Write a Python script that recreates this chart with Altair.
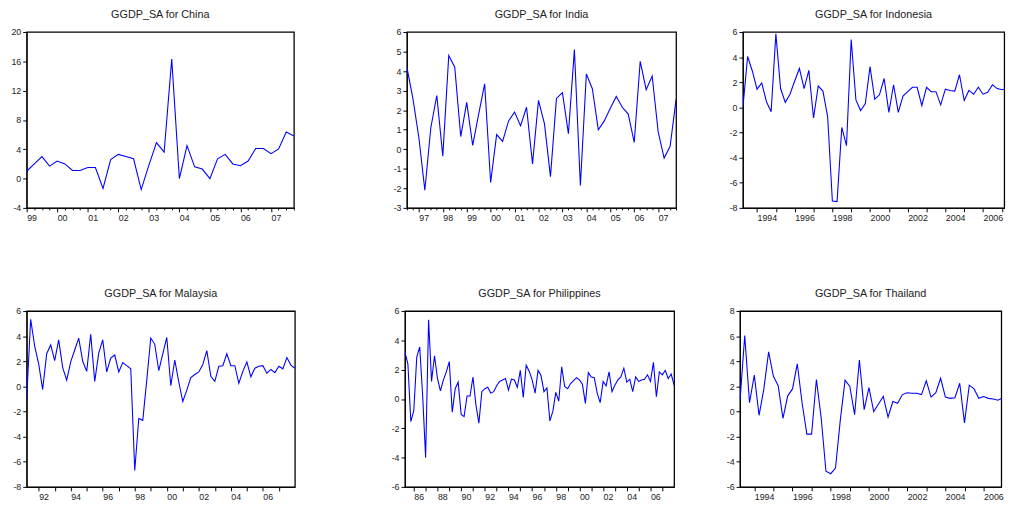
import altair as alt
import pandas as pd

# ---------------- data (quarterly) ----------------
china_start = 1999.0
china = [1.0, 2.0, 3.0, 1.7, 2.4, 2.0, 1.1, 1.1, 1.5, 1.5,
         -1.35, 2.6, 3.3, 3.0, 2.7, -1.5, 1.8, 4.9, 3.6, 16.3,
         0.0, 4.5, 1.6, 1.3, 0.0, 2.7, 3.3, 2.0, 1.75, 2.4,
         4.1, 4.1, 3.4, 4.05, 6.35, 5.8]

india_start = 1996.5
india = [4.2, 2.6, 0.6, -2.1, 1.1, 2.75, -0.35, 4.8, 4.2, 0.65,
         2.4, 0.2, 1.8, 3.35, -1.7, 0.75, 0.4, 1.45, 1.9, 1.2,
         2.15, -0.75, 2.5, 1.3, -1.4, 2.6, 2.9, 0.8, 5.1, -1.85,
         3.85, 3.1, 1.0, 1.45, 2.1, 2.7, 2.15, 1.8, 0.35, 4.5,
         3.05, 3.75, 0.9, -0.45, 0.15, 2.55]

indonesia_start = 1993.25
indonesia = [0.0, 4.05, 2.9, 1.45, 1.95, 0.45, -0.35, 5.85, 1.5, 0.4,
             1.05, 2.1, 3.1, 1.5, 2.95, -0.85, 1.7, 1.3, -0.75, -7.45,
             -7.5, -1.6, -3.05, 5.4, 0.6, -0.25, 0.3, 3.25, 0.65, 1.0,
             2.3, -0.4, 1.8, -0.4, 0.9, 1.25, 1.6, 1.6, 0.15, 1.6,
             1.25, 1.25, 0.2, 1.45, 1.35, 1.3, 2.6, 0.55, 1.35, 1.05,
             1.6, 1.05, 1.2, 1.8, 1.5, 1.4, 1.5, 1.75, 1.15]

malaysia_start = 1991.25
malaysia = [-1.0, 5.35, 3.2, 1.8, -0.25, 2.6, 3.3, 2.05, 3.7, 1.5,
            0.5, 1.95, 2.9, 3.85, 2.0, 1.2, 4.15, 0.4, 2.65, 3.7,
            1.15, 2.25, 2.5, 1.15, 1.9, 1.65, 1.4, -6.7, -2.55, -2.7,
            0.5, 3.85, 3.35, 1.25, 2.6, 3.9, 0.05, 2.1, 0.35, -1.2,
            -0.3, 0.7, 0.95, 1.15, 1.75, 2.85, 0.8, 0.4, 1.6, 1.65,
            2.6, 1.65, 1.65, 0.25, 1.2, 1.95, 0.75, 1.45, 1.6, 1.65,
            1.05, 1.35, 1.1, 1.6, 1.4, 2.3, 1.7, 1.45]

philippines_start = 1985.25
philippines = [3.2, 2.4, -1.55, -0.8, 2.85, 3.55, 0.2, -4.0, 5.4, 1.2,
               2.95, 1.4, 0.55, 1.3, 1.85, 2.55, -0.9, 0.7, 1.15, -1.05,
               -1.2, 0.2, 0.2, 1.5, -0.4, -1.65, 0.5, 0.7, 0.8, 0.4,
               0.5, 0.9, 1.2, 1.3, 1.4, 0.6, 1.35, 1.3, 0.8, 1.95,
               0.1, 2.3, 1.9, 1.3, 0.4, 1.95, 1.6, 0.5, 0.75, -1.5,
               -0.85, 0.45, -0.15, 2.2, 0.85, 0.7, 1.05, 1.25, 1.45, 1.3,
               1.0, -0.3, 1.8, 1.5, 1.45, 0.4, -0.25, 1.2, 0.9, 1.85,
               0.5, 0.95, 1.3, 1.5, 2.1, 1.15, 1.35, 0.5, 1.5, 1.2,
               1.3, 1.35, 1.65, 1.2, 2.5, 0.15, 1.85, 1.65, 1.95, 1.4,
               1.7, 0.95]

thailand_start = 1993.25
thailand = [0.8, 6.05, 0.7, 2.9, -0.3, 1.8, 4.75, 2.8, 2.05, -0.55,
            1.25, 1.8, 3.8, 0.7, -1.8, -1.8, 2.55, -0.5, -4.75, -4.95,
            -4.5, -0.7, 2.5, 2.0, -0.25, 4.1, 0.15, 1.9, 0.0, 0.6,
            1.2, -0.45, 0.8, 0.65, 1.35, 1.5, 1.45, 1.45, 1.35, 2.45,
            1.15, 1.5, 2.65, 1.15, 1.05, 1.1, 2.25, -0.9, 2.1, 1.8,
            1.05, 1.2, 1.05, 1.0, 0.9, 1.1, 1.1, 1.4, 1.5]

FONT = "Liberation Sans"
BLUE = "#0000FF"
PLOT_H = 179
RIGHT_W = 266


def frange(a, b, step):
    out = []
    v = a
    while v <= b + 1e-9:
        out.append(round(v, 4))
        v += step
    return out


def panel(name, start, vals, xdom, ydom, ystep, width,
          labeled, minor, minor_size, two_digit):
    df = pd.DataFrame({"t": [start + 0.25 * i for i in range(len(vals))],
                       "v": vals})
    if two_digit:
        lab_expr = "substring(toString(datum.value), 2, 4)"
    else:
        lab_expr = "toString(datum.value)"
    xscale = alt.Scale(domain=xdom, nice=False, zero=False)
    yscale = alt.Scale(domain=ydom, nice=False, zero=False)
    yaxis = alt.Axis(values=frange(ydom[0], ydom[1], ystep), tickSize=4,
                     grid=False, title=None,
                     labelExpr="toString(datum.value)", labelPadding=2)
    line = alt.Chart(df).mark_line(color=BLUE, strokeWidth=1.1, clip=True).encode(
        x=alt.X("t:Q", scale=xscale,
                axis=alt.Axis(values=labeled, labelExpr=lab_expr,
                              labelAlign="left", tickSize=4,
                              grid=False, title=None, orient="bottom",
                              labelPadding=2, labelFlush=False,
                              labelOverlap=False)),
        y=alt.Y("v:Q", scale=yscale, axis=yaxis),
    )
    ghost = alt.Chart(df).mark_line(opacity=0).encode(
        x=alt.X("t:Q", scale=xscale,
                axis=alt.Axis(values=minor, labels=False, tickSize=minor_size,
                              domain=False, grid=False, title=None,
                              orient="bottom")),
        y=alt.Y("v:Q", scale=yscale, axis=yaxis),
    )
    return alt.layer(line, ghost).resolve_axis(x="independent").properties(
        width=width, height=PLOT_H,
        title=alt.TitleParams("GGDP_SA for " + name, fontSize=11, font=FONT,
                              fontWeight="normal", color="#222222",
                              anchor="middle", offset=8, frame="group"),
    )


def quarters(a, b):
    out = []
    y = a
    while y <= b + 1e-9:
        if abs(y - round(y)) > 1e-6:
            out.append(round(y, 2))
        y += 0.25
    return out


indo_end = round(1993.25 + RIGHT_W / 19.17, 3)
thai_end = round(1993.25 + RIGHT_W / 19.45, 3)

p_china = panel("China", china_start, china, [1999.0, 2007.75], [-4, 20], 4, 272,
                list(range(1999, 2008)), quarters(1999.0, 2007.75), 2, True)
p_india = panel("India", india_start, india, [1996.5, 2007.75], [-3, 6], 1, 274,
                list(range(1997, 2008)), quarters(1996.5, 2007.75), 2, True)
p_indo = panel("Indonesia", indonesia_start, indonesia, [1993.25, indo_end], [-8, 6], 2, RIGHT_W,
               list(range(1994, 2008, 2)), list(range(1995, 2008, 2)), 4, False)
p_malay = panel("Malaysia", malaysia_start, malaysia, [1991.25, 2008.0], [-8, 6], 2, 273,
                list(range(1992, 2008, 2)), list(range(1993, 2009, 2)), 4, True)
p_phil = panel("Philippines", philippines_start, philippines, [1985.25, 2008.0], [-6, 6], 2, 274,
               list(range(1986, 2008, 2)), list(range(1987, 2009, 2)), 4, True)
p_thai = panel("Thailand", thailand_start, thailand, [1993.25, thai_end], [-6, 8], 2, RIGHT_W,
               list(range(1994, 2008, 2)), list(range(1995, 2008, 2)), 4, False)

row1 = alt.hconcat(alt.hconcat(p_china, p_india, spacing=98), p_indo, spacing=51)
row2 = alt.hconcat(alt.hconcat(p_malay, p_phil, spacing=96), p_thai, spacing=51)

chart = alt.vconcat(row1, row2, spacing=65).properties(
    padding={"left": 2, "top": -4, "right": 0, "bottom": 0},
    background="white",
).configure_view(
    stroke="black", strokeWidth=1.3,
).configure_axis(
    domainColor="black", tickColor="black", labelColor="#222222",
    labelFont=FONT, labelFontSize=9, domainWidth=1, tickWidth=1,
)

chart.save("out.html", embed_options={"renderer": "svg", "actions": False})
